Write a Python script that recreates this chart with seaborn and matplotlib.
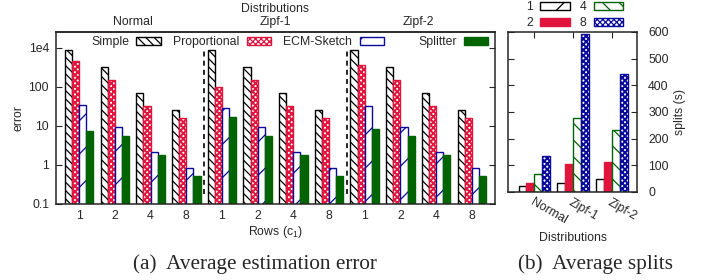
import pandas as pd
import numpy as np
import matplotlib
matplotlib.use('Agg')
import matplotlib.pyplot as plt
import seaborn as sns
from matplotlib.patches import Patch

# --- data ---
dists = ['Normal', 'Zipf-1', 'Zipf-2']
rows = ['1', '2', '4', '8']
methods = ['Simple', 'Proportional', 'ECM-Sketch', 'Splitter']

# error per method: Normal 1,2,4,8 | Zipf-1 1,2,4,8 | Zipf-2 1,2,4,8
simple_err = [890, 320, 69, 26, 890, 320, 69, 26, 890, 320, 69, 26]
prop_err = [464, 151, 32, 15.7, 100, 151, 32, 15.7, 366, 151, 32, 15.7]
ecm_err = [34, 9.4, 2.1, 0.82, 29.5, 9.4, 2.1, 0.82, 32, 9.6, 2.1, 0.82]
splitter_err = [7.6, 5.5, 1.8, 0.52, 17, 5.5, 1.8, 0.52, 8.4, 5.5, 1.8, 0.52]

# splits per rows value, one entry per distribution
splits_1 = [22, 35, 49]
splits_2 = [35, 106, 112]
splits_4 = [67, 276, 232]
splits_8 = [135, 593, 444]

ytick_vals = [0.1, 1, 10, 100, 1000]
ytick_labels = ['0.1', '1', '10', '100', '1e4']

RED = '#e0143c'
GREEN = '#006400'
BLUE = '#0a0a9a'

sns.set_style('ticks')
plt.rcParams['font.family'] = ['Liberation Sans', 'DejaVu Sans']
plt.rcParams['font.size'] = 8.8
plt.rcParams['hatch.linewidth'] = 0.9
plt.rcParams['axes.linewidth'] = 1.1

# long tables
cats = [f'{d}-{r}' for d in dists for r in rows]
df_err = pd.DataFrame({
    'cat': cats * 4,
    'method': np.repeat(methods, len(cats)),
    'error': simple_err + prop_err + ecm_err + splitter_err,
})
df_spl = pd.DataFrame({
    'dist': dists * 4,
    'rows': np.repeat(rows, len(dists)),
    'splits': splits_1 + splits_2 + splits_4 + splits_8,
})

err_style = {
    'Simple': dict(facecolor='white', edgecolor='black', hatch='\\\\\\\\'),
    'Proportional': dict(facecolor='white', edgecolor=RED, hatch='xxxxxx'),
    'ECM-Sketch': dict(facecolor='white', edgecolor=BLUE, hatch='/'),
    'Splitter': dict(facecolor=GREEN, edgecolor=GREEN, hatch=None),
}
spl_style = {
    '1': dict(facecolor='white', edgecolor='black', hatch='/'),
    '2': dict(facecolor=RED, edgecolor=RED, hatch=None),
    '4': dict(facecolor='white', edgecolor=GREEN, hatch='\\\\'),
    '8': dict(facecolor='white', edgecolor=BLUE, hatch='xxxxxx'),
}


def style_patch(p, st):
    p.set(linewidth=1.0, **st)
    # thicker lines for the dense crosshatch so it reads as dotted colour
    if st['hatch'] and 'x' in st['hatch'] and hasattr(p, 'set_hatch_linewidth'):
        p.set_hatch_linewidth(1.4)


fig = plt.figure(figsize=(7.12, 2.8), dpi=100)
ax = fig.add_axes([56 / 712, 76 / 280, 439 / 712, 172 / 280])
ax2 = fig.add_axes([508 / 712, 88 / 280, 129 / 712, 160 / 280])

# --- (a) average estimation error ---
sns.barplot(data=df_err, x='cat', y='error', hue='method', order=cats,
            hue_order=methods, saturation=1, legend=False, ax=ax)
for cont, m in zip(ax.containers, methods):
    for p in cont.patches:
        style_patch(p, err_style[m])

ax.set_yscale('log')
ax.set_ylim(0.1, 2570)
ax.set_xlim(-0.65, 11.65)
ax.minorticks_off()
ax.set_yticks(ytick_vals, ytick_labels)
ax.set_xticks(range(len(cats)), rows * 3)
ax.tick_params(axis='y', direction='in', right=True, length=4, pad=5)
ax.tick_params(axis='x', length=0, pad=4)
ax.set_xlabel('Rows (c$_{\\mathregular{1}}$)', labelpad=2)
ax.set_ylabel('error', labelpad=3)
for s in ax.spines.values():
    s.set_visible(True)

for xs in [3.5, 7.5]:
    ax.axvline(xs, ymin=0.06, ymax=0.9, color='black', lw=1.2,
               ls=(0, (3, 2.5)))

top = ax.secondary_xaxis('top')
top.set_xticks([1.5, 5.5, 9.5], dists)
top.tick_params(length=0, pad=3)
top.set_xlabel('Distributions', labelpad=3)

h1 = []
for m in methods[:3]:
    hp = Patch(label=m)
    style_patch(hp, err_style[m])
    h1.append(hp)
leg1 = ax.legend(handles=h1, loc='upper left', ncol=3, frameon=False,
                 markerfirst=False, bbox_to_anchor=(0.08, 0.975),
                 borderaxespad=0, borderpad=0, handlelength=2.0,
                 handleheight=0.65, handletextpad=0.6, columnspacing=1.0)
ax.add_artist(leg1)
h2 = [Patch(label=m, linewidth=1.0, **err_style[m]) for m in methods[3:]]
ax.legend(handles=h2, loc='upper right', frameon=False, markerfirst=False,
          bbox_to_anchor=(0.985, 0.975), borderaxespad=0, borderpad=0,
          handlelength=2.0, handleheight=0.65, handletextpad=0.6)

# --- (b) average splits ---
sns.barplot(data=df_spl, x='dist', y='splits', hue='rows', order=dists,
            hue_order=rows, saturation=1, legend=False, ax=ax2)
for cont, r in zip(ax2.containers, rows):
    for p in cont.patches:
        style_patch(p, spl_style[r])

ax2.set_ylim(0, 600)
ax2.set_xlim(-0.67, 2.64)
ax2.set_yticks(range(0, 601, 100))
ax2.yaxis.tick_right()
ax2.yaxis.set_label_position('right')
ax2.tick_params(axis='y', direction='in', left=True, right=True, length=4,
                pad=8)
ax2.tick_params(axis='x', direction='in', top=True, bottom=False,
                labelbottom=True, length=4, pad=3)
ax2.set_xticks(range(3))
ax2.set_xticklabels(dists, rotation=-30, ha='left', va='top',
                    rotation_mode='anchor')
ax2.set_xlabel('Distributions', labelpad=4)
ax2.set_ylabel('splits (s)', labelpad=4)
for s in ax2.spines.values():
    s.set_visible(True)

h3 = []
for r in rows:
    hp = Patch(label=r)
    style_patch(hp, spl_style[r])
    h3.append(hp)
fig.legend(handles=h3, loc='upper left', ncol=2, frameon=False,
           markerfirst=False, bbox_to_anchor=(525 / 712, 1.0),
           borderaxespad=0, borderpad=0.1, handlelength=2.4,
           handleheight=0.65, handletextpad=0.6, columnspacing=0.8,
           labelspacing=0.35)

# captions
fig.text(255 / 712, 1 - 264 / 280, '(a)  Average estimation error',
         family='Liberation Serif', fontsize=15.3, ha='center', va='center')
fig.text(596 / 712, 1 - 264 / 280, '(b)  Average splits',
         family='Liberation Serif', fontsize=15.3, ha='center', va='center')

fig.savefig('out.png', dpi=100)
